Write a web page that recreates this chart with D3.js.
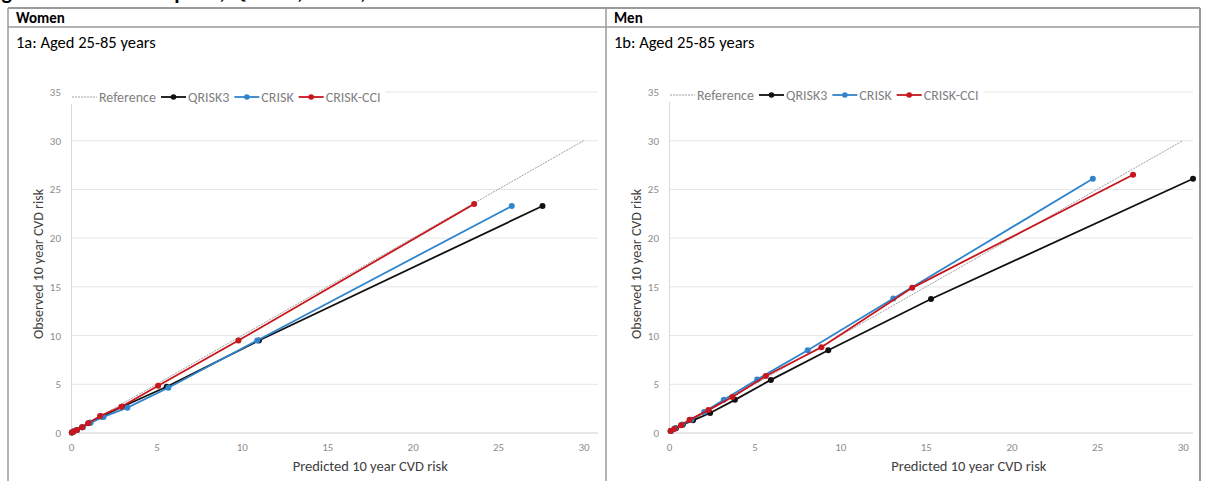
<!DOCTYPE html>
<html>
<head>
<meta charset="utf-8">
<script src="https://cdn.jsdelivr.net/npm/d3@7"></script>
<style>
  body { margin: 0; background: #fff; }
  svg { display: block; }
  text { font-family: Carlito, Lato, "Liberation Sans", sans-serif; }
</style>
</head>
<body>
<svg id="chart" width="1206" height="481"></svg>
<script>
(function () {

    /* data */
    var SERIES = ["QRISK3", "CRISK", "CRISK-CCI"];
    var COLORS = ["#111111", "#2f84cc", "#c8161d"];
    var X_TICKS = [0, 5, 10, 15, 20, 25, 30];
    var Y_TICKS = [0, 5, 10, 15, 20, 25, 30, 35];
    var REF_LINE = [0, 30];

    var womenQriskPred = [0.05, 0.15, 0.35, 0.65, 1.1, 1.8, 3.0, 5.6, 11.0, 27.6];
    var womenQriskObs  = [0.05, 0.15, 0.3, 0.6, 1.05, 1.7, 2.7, 4.75, 9.5, 23.3];
    var womenCriskPred = [0.05, 0.15, 0.35, 0.7, 1.15, 1.9, 3.3, 5.7, 10.9, 25.8];
    var womenCriskObs  = [0.05, 0.15, 0.3, 0.6, 1.05, 1.65, 2.6, 4.65, 9.5, 23.3];
    var womenCciPred   = [0.05, 0.15, 0.35, 0.65, 1.0, 1.7, 2.95, 5.1, 9.8, 23.6];
    var womenCciObs    = [0.05, 0.15, 0.3, 0.6, 1.0, 1.75, 2.7, 4.85, 9.5, 23.5];

    var menQriskPred = [0.1, 0.4, 0.8, 1.4, 2.4, 3.85, 5.95, 9.3, 15.3, 30.6];
    var menQriskObs  = [0.2, 0.5, 0.85, 1.3, 2.05, 3.4, 5.45, 8.5, 13.75, 26.1];
    var menCriskPred = [0.1, 0.35, 0.75, 1.3, 2.05, 3.2, 5.15, 8.1, 13.1, 24.75];
    var menCriskObs  = [0.2, 0.5, 0.85, 1.35, 2.15, 3.4, 5.5, 8.5, 13.8, 26.1];
    var menCciPred   = [0.1, 0.3, 0.7, 1.2, 2.3, 3.7, 5.65, 8.9, 14.2, 27.1];
    var menCciObs    = [0.2, 0.4, 0.8, 1.35, 2.35, 3.7, 5.85, 8.8, 14.9, 26.5];

    var PANELS = [
        { head: "Women", sub: "1a: Aged 25-85 years", left: 71, right: 598, xEnd: 30.85, legendY: 97,
          yTitle: "Observed  10 year CVD risk", xTitle: "Predicted 10 year CVD risk",
          pred: [womenQriskPred, womenCriskPred, womenCciPred],
          obs:  [womenQriskObs,  womenCriskObs,  womenCciObs] },
        { head: "Men", sub: "1b: Aged 25-85 years", left: 669, right: 1193, xEnd: 30.6, legendY: 95,
          yTitle: "Observed 10 year CVD risk", xTitle: "Predicted 10 year CVD risk",
          pred: [menQriskPred, menCriskPred, menCciPred],
          obs:  [menQriskObs,  menCriskObs,  menCciObs] }
    ];

    var svg = d3.select("#chart");

    /* figure caption, cut off by the top edge as in the scan */
    svg.append("text")
        .attr("x", -14).attr("y", -1)
        .attr("font-size", 22).attr("font-weight", "bold")
        .attr("fill", "#000")
        .text("Figure 1: Calibration plots, QRISK3, CRISK, CRISK-CCI");

    /* table frame */
    var TOP = 8, ROW1 = 27, DIV = 606, L = 8, R = 1200;
    var frame = svg.append("g").attr("stroke", "#9a9a9a").attr("fill", "none");
    frame.append("line").attr("x1", L).attr("x2", R).attr("y1", TOP).attr("y2", TOP).attr("stroke-width", 2);
    frame.append("line").attr("x1", L).attr("x2", R).attr("y1", ROW1).attr("y2", ROW1).attr("stroke-width", 1.5);
    frame.append("line").attr("x1", L).attr("x2", L).attr("y1", TOP).attr("y2", 481).attr("stroke-width", 1.5);
    frame.append("line").attr("x1", DIV).attr("x2", DIV).attr("y1", TOP).attr("y2", 481).attr("stroke-width", 1.5);
    frame.append("line").attr("x1", R).attr("x2", R).attr("y1", TOP).attr("y2", 481).attr("stroke-width", 2);

    var y = d3.scaleLinear().domain([0, 35]).range([433, 92]);

    PANELS.forEach(function (p, pi) {
        var cellX = pi === 0 ? L : DIV;

        svg.append("text")
            .attr("x", cellX + 8).attr("y", 23)
            .attr("font-size", 15).attr("font-weight", "bold")
            .attr("fill", "#000")
            .text(p.head);
        svg.append("text")
            .attr("x", cellX + 8).attr("y", 48)
            .attr("font-size", 16.5)
            .attr("fill", "#000")
            .text(p.sub);

        var x = d3.scaleLinear().domain([0, p.xEnd]).range([p.left, p.right]);
        var g = svg.append("g");

        /* gridlines */
        g.selectAll(".grid")
            .data(Y_TICKS.slice(1))
            .enter().append("line")
            .attr("x1", x(0)).attr("x2", x(p.xEnd))
            .attr("y1", function (d) { return y(d); })
            .attr("y2", function (d) { return y(d); })
            .attr("stroke", "#e6e6e6").attr("stroke-width", 1);

        /* axes */
        var xAxis = d3.axisBottom(x).tickValues(X_TICKS).tickSize(0).tickPadding(10);
        var gx = g.append("g").attr("transform", "translate(0," + y(0) + ")").call(xAxis);
        gx.select(".domain").attr("stroke", "#d0d0d0").attr("d", "M" + x(0) + ",0H" + x(p.xEnd));
        gx.selectAll("text").attr("fill", "#8c8c8c").attr("font-size", 11)
            .attr("font-family", "Carlito, Lato, sans-serif");

        var yAxis = d3.axisLeft(y).tickValues(Y_TICKS).tickSize(0).tickPadding(10);
        var gy = g.append("g").attr("transform", "translate(" + x(0) + ",0)").call(yAxis);
        gy.select(".domain").attr("stroke", "#d9d9d9");
        gy.selectAll("text").attr("fill", "#8c8c8c").attr("font-size", 11)
            .attr("font-family", "Carlito, Lato, sans-serif");

        /* axis titles */
        g.append("text")
            .attr("x", (x(0) + x(30)) / 2 + 43).attr("y", 471)
            .attr("text-anchor", "middle")
            .attr("font-size", 14.5).attr("fill", "#404040")
            .text(p.xTitle);
        g.append("text")
            .attr("transform", "translate(" + (x(0) - 28) + "," + 264 + ") rotate(-90)")
            .attr("text-anchor", "middle")
            .attr("font-size", 14).attr("fill", "#404040")
            .text(p.yTitle);

        /* reference line */
        g.append("line")
            .attr("x1", x(REF_LINE[0])).attr("y1", y(REF_LINE[0]))
            .attr("x2", x(REF_LINE[1])).attr("y2", y(REF_LINE[1]))
            .attr("stroke", "#a0a0a0").attr("stroke-width", 1)
            .attr("stroke-dasharray", "2,1");

        /* series */
        var line = d3.line()
            .x(function (d) { return x(d[0]); })
            .y(function (d) { return y(d[1]); });

        SERIES.forEach(function (name, si) {
            var pts = p.pred[si].map(function (v, i) { return [v, p.obs[si][i]]; });
            g.append("path")
                .datum(pts)
                .attr("d", line)
                .attr("fill", "none")
                .attr("stroke", COLORS[si])
                .attr("stroke-width", 1.8);
            g.selectAll(".pt" + si)
                .data(pts)
                .enter().append("circle")
                .attr("cx", function (d) { return x(d[0]); })
                .attr("cy", function (d) { return y(d[1]); })
                .attr("r", 3)
                .attr("fill", COLORS[si]);
        });

        /* legend */
        var lg = g.append("g").attr("transform", "translate(" + (x(0) + 1) + "," + p.legendY + ")");
        var legendItems = [{ name: "Reference", color: "#a0a0a0", ref: true }].concat(
            SERIES.map(function (s, i) { return { name: s, color: COLORS[i] }; }));
        var bg = lg.append("rect").attr("y", -8).attr("height", 15).attr("fill", "#fff");
        var lx = 0;
        legendItems.forEach(function (it) {
            var item = lg.append("g").attr("transform", "translate(" + lx + ",0)");
            item.append("line")
                .attr("x1", 0).attr("x2", 25).attr("y1", 0).attr("y2", 0)
                .attr("stroke", it.color)
                .attr("stroke-width", it.ref ? 1 : 1.8)
                .attr("stroke-dasharray", it.ref ? "2,1" : null);
            if (!it.ref) {
                item.append("circle").attr("cx", 12.5).attr("cy", 0).attr("r", 2.8).attr("fill", it.color);
            }
            var t = item.append("text")
                .attr("x", 27).attr("y", 5)
                .attr("font-size", 14).attr("fill", "#7f7f7f")
                .text(it.name);
            lx += 27 + t.node().getComputedTextLength() + 5;
        });
        bg.attr("x", -2).attr("width", lx + 2);
    });

}());
</script>
</body>
</html>
